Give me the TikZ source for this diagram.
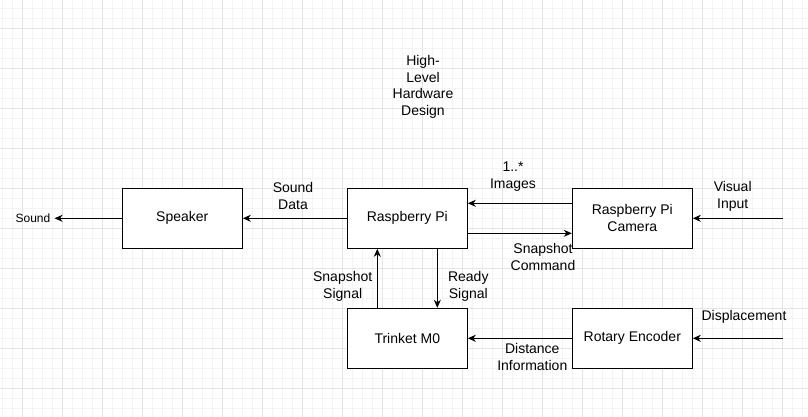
\documentclass[tikz,border=0pt]{standalone}
\usepackage{fontspec}
\setmainfont{Liberation Sans}
\usetikzlibrary{arrows.meta,calc}
\definecolor{gridminor}{HTML}{F4F4F4}
\definecolor{gridmajor}{HTML}{E4E4E4}
\tikzset{
  box/.style={draw=black, line width=1pt, fill=white, minimum width=120pt, minimum height=60pt, inner sep=0pt, align=center, font=\fontsize{14}{16.7}\selectfont},
  lbl/.style={align=center, inner sep=0pt, font=\fontsize{14}{16.7}\selectfont},
  conn/.style={draw=black, line width=1pt, -{Stealth[length=8pt,width=7pt,inset=2.5pt]}},
}
\begin{document}
\begin{tikzpicture}[x=1pt,y=-1pt]
\useasboundingbox (0,0) rectangle (808,417);
\fill[white] (0,0) rectangle (808,417);
% grid
\foreach \i in {0,...,80} {\draw[gridminor, line width=0.8pt] (2.3+10*\i,0) -- (2.3+10*\i,417);}
\foreach \j in {0,...,41} {\draw[gridminor, line width=0.8pt] (0,8.3+10*\j) -- (808,8.3+10*\j);}
\foreach \i in {0,...,19} {\draw[gridmajor, line width=0.8pt] (22.3+40*\i,0) -- (22.3+40*\i,417);}
\foreach \j in {0,...,9} {\draw[gridmajor, line width=0.8pt] (0,28.3+40*\j) -- (808,28.3+40*\j);}

% title
\node[lbl] (title) at (423,87) {High-\\Level\\Hardware\\Design};

% boxes
\node[box] (spk) at (182.3,218.3) {Speaker};
\node[box] (rpi) at (407.3,218.3) {Raspberry Pi};
\node[box] (trk) at (407.3,338.3) {Trinket M0};
\node[box] (cam) at (632.3,218.3) {Raspberry Pi\\Camera};
\node[box] (enc) at (632.3,338.3) {Rotary Encoder};

% free ends
\node[inner xsep=4pt, inner ysep=0pt, font=\fontsize{12}{14}\selectfont] (sound) at (33,218.3) {Sound};
\coordinate (vin) at (782.5,218.3);
\coordinate (disp) at (782.5,338.3);

% connectors
\draw[conn] (spk.west) -- (sound.east);
\draw[conn] (rpi.west) -- (spk.east);
\draw[conn] ($(cam.west)+(0,-15)$) -- ($(rpi.east)+(0,-15)$);
\draw[conn] ($(rpi.east)+(0,15)$) -- ($(cam.west)+(0,15)$);
\draw[conn] (vin) -- (cam.east);
\draw[conn] ($(trk.north)+(-30,0)$) -- ($(rpi.south)+(-30,0)$);
\draw[conn] ($(rpi.south)+(30,0)$) -- ($(trk.north)+(30,0)$);
\draw[conn] (enc.west) -- (trk.east);
\draw[conn] (disp) -- (enc.east);

% labels
\node[lbl] (l1) at (293,196) {Sound\\Data};
\node[lbl] (l2) at (513,176.7) {1..*\\Images};
\node[lbl] (l3) at (543,256.7) {Snapshot\\Command};
\node[lbl] (l4) at (732.7,196.7) {Visual\\Input};
\node[lbl] (l5) at (342.7,286.7) {Snapshot\\Signal};
\node[lbl] (l6) at (468.3,286.7) {Ready\\Signal};
\node[lbl] (l7) at (532.3,356.7) {Distance\\Information};
\node[lbl] (l8) at (744,316.7) {Displacement};
\end{tikzpicture}
\end{document}
